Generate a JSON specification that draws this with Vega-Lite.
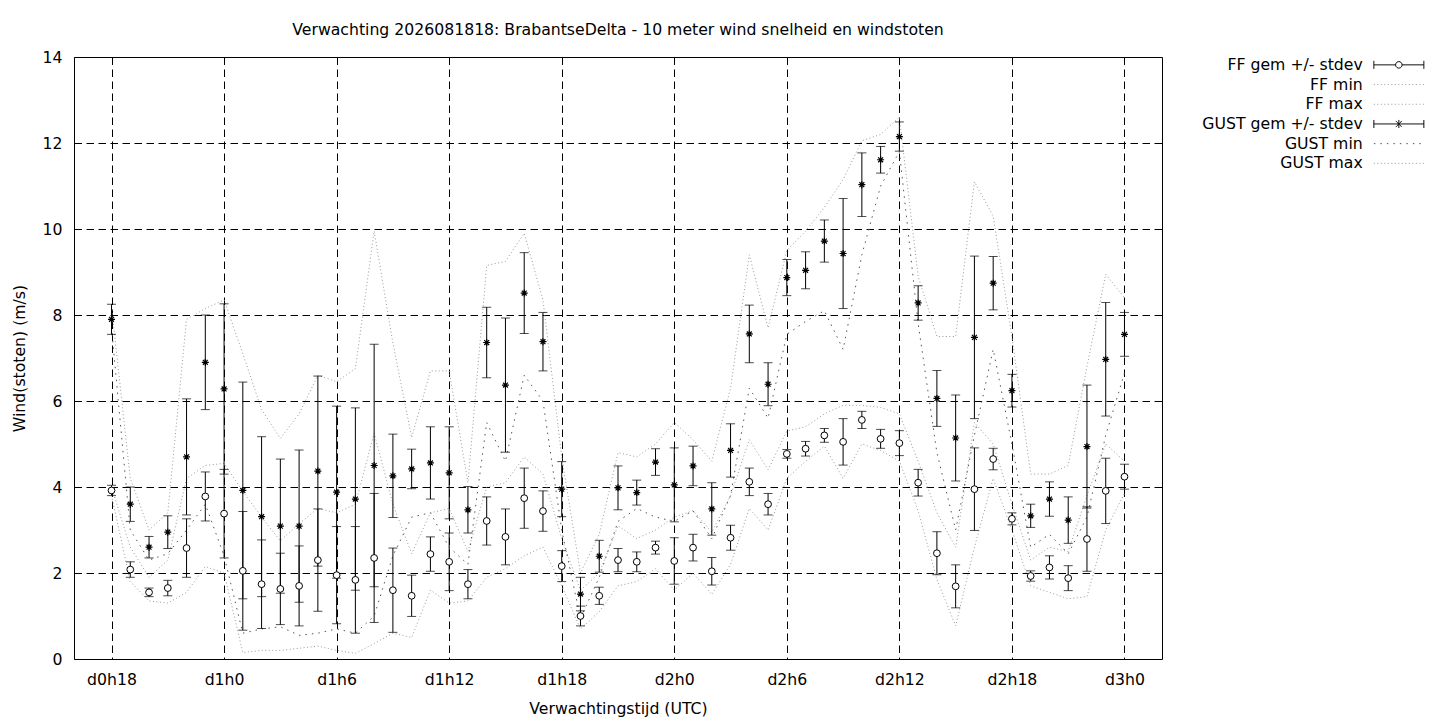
{
  "$schema": "https://vega.github.io/schema/vega-lite/v6.json",
  "width": 1088,
  "height": 602,
  "autosize": {"type": "none"},
  "padding": {"left": 74, "top": 57, "right": 278, "bottom": 61},
  "background": "white",
  "title": {
    "text": "Verwachting 2026081818: BrabantseDelta - 10 meter wind snelheid en windstoten",
    "fontSize": 15.7,
    "fontWeight": "normal",
    "font": "DejaVu Sans",
    "color": "black",
    "offset": 10
  },
  "config": {
    "font": "DejaVu Sans",
    "view": {"stroke": "black", "strokeWidth": 1},
    "axis": {
      "labelFontSize": 15.7,
      "titleFontSize": 15.7,
      "titleFontWeight": "normal",
      "labelColor": "black",
      "titleColor": "black",
      "domain": false,
      "ticks": false,
      "grid": true,
      "gridColor": "black",
      "gridOpacity": 1,
      "gridWidth": 1,
      "gridDash": [7.5, 4.5]
    }
  },
  "datasets": {
    "wind": [
      {"t": 18, "g": 7.9, "g_lo": 7.55, "g_hi": 8.25, "f": 3.92, "f_lo": 3.8, "f_hi": 4.04, "fmin": 3.8, "fmax": 4.0, "gmin": 7.7, "gmax": 8.2},
      {"t": 19, "g": 3.6, "g_lo": 3.2, "g_hi": 4.0, "f": 2.08, "f_lo": 1.9, "f_hi": 2.26, "fmin": 1.8, "fmax": 2.6, "gmin": 3.0, "gmax": 4.2},
      {"t": 20, "g": 2.6, "g_lo": 2.35, "g_hi": 2.85, "f": 1.55, "f_lo": 1.45, "f_hi": 1.65, "fmin": 1.35, "fmax": 1.9, "gmin": 2.3, "gmax": 3.0},
      {"t": 21, "g": 2.95, "g_lo": 2.57, "g_hi": 3.33, "f": 1.65, "f_lo": 1.47, "f_hi": 1.83, "fmin": 1.3, "fmax": 2.3, "gmin": 2.45, "gmax": 3.4},
      {"t": 22, "g": 4.7, "g_lo": 3.35, "g_hi": 6.05, "f": 2.58, "f_lo": 1.9, "f_hi": 3.26, "fmin": 1.55, "fmax": 4.2, "gmin": 3.0, "gmax": 7.9},
      {"t": 23, "g": 6.9, "g_lo": 5.8, "g_hi": 8.0, "f": 3.78, "f_lo": 3.21, "f_hi": 4.35, "fmin": 2.15, "fmax": 4.5, "gmin": 3.6, "gmax": 8.15},
      {"t": 24, "g": 6.28, "g_lo": 4.3, "g_hi": 8.26, "f": 3.38, "f_lo": 2.35, "f_hi": 4.41, "fmin": 2.0, "fmax": 4.55, "gmin": 2.4, "gmax": 8.35},
      {"t": 25, "g": 3.92, "g_lo": 1.4, "g_hi": 6.44, "f": 2.05, "f_lo": 0.67, "f_hi": 3.43, "fmin": 0.15, "fmax": 3.9, "gmin": 0.6, "gmax": 7.1},
      {"t": 26, "g": 3.31, "g_lo": 1.45, "g_hi": 5.17, "f": 1.74, "f_lo": 0.71, "f_hi": 2.77, "fmin": 0.2, "fmax": 3.3, "gmin": 0.7, "gmax": 5.8},
      {"t": 27, "g": 3.09, "g_lo": 1.53, "g_hi": 4.65, "f": 1.63, "f_lo": 0.8, "f_hi": 2.46, "fmin": 0.2, "fmax": 2.75, "gmin": 0.75, "gmax": 5.13},
      {"t": 28, "g": 3.09, "g_lo": 1.32, "g_hi": 4.86, "f": 1.7, "f_lo": 0.77, "f_hi": 2.63, "fmin": 0.25, "fmax": 3.15, "gmin": 0.55, "gmax": 5.7},
      {"t": 29, "g": 4.37, "g_lo": 2.16, "g_hi": 6.58, "f": 2.3, "f_lo": 1.11, "f_hi": 3.49, "fmin": 0.3, "fmax": 3.5, "gmin": 0.6, "gmax": 6.6},
      {"t": 30, "g": 3.88, "g_lo": 1.88, "g_hi": 5.88, "f": 1.95, "f_lo": 0.82, "f_hi": 3.08, "fmin": 0.2, "fmax": 3.4, "gmin": 0.7, "gmax": 6.45},
      {"t": 31, "g": 3.72, "g_lo": 1.6, "g_hi": 5.84, "f": 1.84, "f_lo": 0.6, "f_hi": 3.08, "fmin": 0.13, "fmax": 3.6, "gmin": 0.6, "gmax": 6.75},
      {"t": 32, "g": 4.5, "g_lo": 1.68, "g_hi": 7.32, "f": 2.35, "f_lo": 0.85, "f_hi": 3.85, "fmin": 0.36, "fmax": 5.25, "gmin": 1.0, "gmax": 9.95},
      {"t": 33, "g": 4.26, "g_lo": 3.29, "g_hi": 5.23, "f": 1.6, "f_lo": 0.62, "f_hi": 2.58, "fmin": 0.6, "fmax": 3.6, "gmin": 2.4, "gmax": 7.35},
      {"t": 34, "g": 4.42, "g_lo": 3.96, "g_hi": 4.88, "f": 1.47, "f_lo": 0.99, "f_hi": 1.95, "fmin": 0.5, "fmax": 2.45, "gmin": 3.3, "gmax": 5.15},
      {"t": 35, "g": 4.56, "g_lo": 3.72, "g_hi": 5.4, "f": 2.44, "f_lo": 2.04, "f_hi": 2.84, "fmin": 1.6, "fmax": 3.4, "gmin": 3.4, "gmax": 6.7},
      {"t": 36, "g": 4.33, "g_lo": 3.26, "g_hi": 5.4, "f": 2.26, "f_lo": 1.59, "f_hi": 2.93, "fmin": 1.3, "fmax": 3.5, "gmin": 2.6, "gmax": 6.7},
      {"t": 37, "g": 3.47, "g_lo": 2.93, "g_hi": 4.01, "f": 1.74, "f_lo": 1.4, "f_hi": 2.08, "fmin": 1.35, "fmax": 2.5, "gmin": 2.2, "gmax": 4.1},
      {"t": 38, "g": 7.36, "g_lo": 6.54, "g_hi": 8.18, "f": 3.21, "f_lo": 2.65, "f_hi": 3.77, "fmin": 1.9, "fmax": 4.0, "gmin": 5.5, "gmax": 9.15},
      {"t": 39, "g": 6.37, "g_lo": 4.81, "g_hi": 7.93, "f": 2.84, "f_lo": 2.19, "f_hi": 3.49, "fmin": 2.1, "fmax": 4.1, "gmin": 4.6, "gmax": 9.25},
      {"t": 40, "g": 8.51, "g_lo": 7.57, "g_hi": 9.45, "f": 3.74, "f_lo": 3.04, "f_hi": 4.44, "fmin": 2.4, "fmax": 4.7, "gmin": 6.6, "gmax": 9.9},
      {"t": 41, "g": 7.38, "g_lo": 6.7, "g_hi": 8.06, "f": 3.44, "f_lo": 2.97, "f_hi": 3.91, "fmin": 2.6, "fmax": 4.3, "gmin": 6.0, "gmax": 8.35},
      {"t": 42, "g": 3.95, "g_lo": 3.31, "g_hi": 4.59, "f": 2.16, "f_lo": 1.8, "f_hi": 2.52, "fmin": 1.7, "fmax": 2.8, "gmin": 3.0, "gmax": 4.7},
      {"t": 43, "g": 1.51, "g_lo": 1.12, "g_hi": 1.9, "f": 1.0, "f_lo": 0.77, "f_hi": 1.23, "fmin": 0.7, "fmax": 1.6, "gmin": 0.95, "gmax": 2.0},
      {"t": 44, "g": 2.39, "g_lo": 2.02, "g_hi": 2.76, "f": 1.47, "f_lo": 1.27, "f_hi": 1.67, "fmin": 1.1, "fmax": 2.0, "gmin": 1.9, "gmax": 2.9},
      {"t": 45, "g": 3.98, "g_lo": 3.47, "g_hi": 4.49, "f": 2.3, "f_lo": 2.03, "f_hi": 2.57, "fmin": 1.7, "fmax": 3.1, "gmin": 3.2, "gmax": 4.8},
      {"t": 46, "g": 3.87, "g_lo": 3.58, "g_hi": 4.16, "f": 2.26, "f_lo": 2.03, "f_hi": 2.49, "fmin": 1.8, "fmax": 2.8, "gmin": 3.5, "gmax": 4.7},
      {"t": 47, "g": 4.58, "g_lo": 4.27, "g_hi": 4.89, "f": 2.59, "f_lo": 2.44, "f_hi": 2.74, "fmin": 2.1, "fmax": 3.0, "gmin": 3.3, "gmax": 5.0},
      {"t": 48, "g": 4.05, "g_lo": 3.19, "g_hi": 4.91, "f": 2.28, "f_lo": 1.74, "f_hi": 2.82, "fmin": 1.6, "fmax": 3.3, "gmin": 3.2, "gmax": 5.5},
      {"t": 49, "g": 4.49, "g_lo": 4.03, "g_hi": 4.95, "f": 2.59, "f_lo": 2.28, "f_hi": 2.9, "fmin": 2.0, "fmax": 3.45, "gmin": 3.45, "gmax": 5.1},
      {"t": 50, "g": 3.49, "g_lo": 2.88, "g_hi": 4.1, "f": 2.04, "f_lo": 1.72, "f_hi": 2.36, "fmin": 1.5, "fmax": 2.95, "gmin": 2.8, "gmax": 4.6},
      {"t": 51, "g": 4.85, "g_lo": 4.23, "g_hi": 5.47, "f": 2.82, "f_lo": 2.53, "f_hi": 3.11, "fmin": 2.2, "fmax": 3.8, "gmin": 3.8, "gmax": 6.3},
      {"t": 52, "g": 7.56, "g_lo": 6.89, "g_hi": 8.23, "f": 4.12, "f_lo": 3.8, "f_hi": 4.44, "fmin": 3.5, "fmax": 5.1, "gmin": 6.3, "gmax": 9.4},
      {"t": 53, "g": 6.39, "g_lo": 5.89, "g_hi": 6.89, "f": 3.6, "f_lo": 3.35, "f_hi": 3.85, "fmin": 3.0, "fmax": 4.4, "gmin": 5.6, "gmax": 7.7},
      {"t": 54, "g": 8.87, "g_lo": 8.45, "g_hi": 9.29, "f": 4.77, "f_lo": 4.67, "f_hi": 4.87, "fmin": 4.2, "fmax": 5.3, "gmin": 7.55, "gmax": 9.5},
      {"t": 55, "g": 9.04, "g_lo": 8.61, "g_hi": 9.47, "f": 4.89, "f_lo": 4.72, "f_hi": 5.06, "fmin": 4.6, "fmax": 5.4, "gmin": 7.85, "gmax": 9.95},
      {"t": 56, "g": 9.72, "g_lo": 9.23, "g_hi": 10.21, "f": 5.2, "f_lo": 5.04, "f_hi": 5.36, "fmin": 4.95, "fmax": 5.7, "gmin": 8.1, "gmax": 10.5},
      {"t": 57, "g": 9.43, "g_lo": 8.15, "g_hi": 10.71, "f": 5.05, "f_lo": 4.51, "f_hi": 5.59, "fmin": 4.2, "fmax": 5.9, "gmin": 7.2, "gmax": 11.15},
      {"t": 58, "g": 11.03, "g_lo": 10.29, "g_hi": 11.77, "f": 5.56, "f_lo": 5.36, "f_hi": 5.76, "fmin": 5.0, "fmax": 5.9, "gmin": 9.4, "gmax": 12.05},
      {"t": 59, "g": 11.61, "g_lo": 11.3, "g_hi": 11.92, "f": 5.12, "f_lo": 4.9, "f_hi": 5.34, "fmin": 4.85, "fmax": 5.85, "gmin": 11.0, "gmax": 12.2},
      {"t": 60, "g": 12.15, "g_lo": 11.81, "g_hi": 12.49, "f": 5.02, "f_lo": 4.73, "f_hi": 5.31, "fmin": 4.6, "fmax": 5.7, "gmin": 11.8, "gmax": 12.6},
      {"t": 61, "g": 8.28, "g_lo": 7.88, "g_hi": 8.68, "f": 4.1, "f_lo": 3.79, "f_hi": 4.41, "fmin": 3.45, "fmax": 4.6, "gmin": 7.8, "gmax": 8.9},
      {"t": 62, "g": 6.06, "g_lo": 5.41, "g_hi": 6.71, "f": 2.46, "f_lo": 1.96, "f_hi": 2.96, "fmin": 1.85, "fmax": 3.4, "gmin": 4.8, "gmax": 7.5},
      {"t": 63, "g": 5.14, "g_lo": 4.14, "g_hi": 6.14, "f": 1.69, "f_lo": 1.19, "f_hi": 2.19, "fmin": 0.77, "fmax": 2.6, "gmin": 3.0, "gmax": 7.5},
      {"t": 64, "g": 7.48, "g_lo": 5.59, "g_hi": 9.37, "f": 3.95, "f_lo": 2.99, "f_hi": 4.91, "fmin": 2.6, "fmax": 5.5, "gmin": 5.2, "gmax": 11.1},
      {"t": 65, "g": 8.74, "g_lo": 8.12, "g_hi": 9.36, "f": 4.65, "f_lo": 4.4, "f_hi": 4.9, "fmin": 4.2, "fmax": 5.0, "gmin": 7.2, "gmax": 10.3},
      {"t": 66, "g": 6.24, "g_lo": 5.86, "g_hi": 6.62, "f": 3.26, "f_lo": 3.12, "f_hi": 3.4, "fmin": 3.0, "fmax": 3.6, "gmin": 5.0, "gmax": 7.5},
      {"t": 67, "g": 3.33, "g_lo": 3.06, "g_hi": 3.6, "f": 1.93, "f_lo": 1.81, "f_hi": 2.05, "fmin": 1.7, "fmax": 2.3, "gmin": 2.6, "gmax": 4.3},
      {"t": 68, "g": 3.72, "g_lo": 3.32, "g_hi": 4.12, "f": 2.13, "f_lo": 1.86, "f_hi": 2.4, "fmin": 1.55, "fmax": 2.6, "gmin": 2.9, "gmax": 4.3},
      {"t": 69, "g": 3.23, "g_lo": 2.69, "g_hi": 3.77, "f": 1.88, "f_lo": 1.59, "f_hi": 2.17, "fmin": 1.4, "fmax": 2.5, "gmin": 2.45, "gmax": 4.5},
      {"t": 70, "g": 4.94, "g_lo": 3.51, "g_hi": 6.37, "f": 2.79, "f_lo": 2.04, "f_hi": 3.54, "fmin": 1.45, "fmax": 3.8, "gmin": 3.3, "gmax": 6.8},
      {"t": 71, "g": 6.97, "g_lo": 5.65, "g_hi": 8.29, "f": 3.91, "f_lo": 3.15, "f_hi": 4.67, "fmin": 3.0, "fmax": 5.0, "gmin": 5.2, "gmax": 8.95},
      {"t": 72, "g": 7.55, "g_lo": 7.04, "g_hi": 8.06, "f": 4.24, "f_lo": 3.95, "f_hi": 4.53, "fmin": 3.85, "fmax": 4.6, "gmin": 6.65, "gmax": 8.4}
    ],
    "legend": [
      {"series": "FF gem +/- stdev"},
      {"series": "FF min"},
      {"series": "FF max"},
      {"series": "GUST gem +/- stdev"},
      {"series": "GUST min"},
      {"series": "GUST max"}
    ]
  },
  "data": {"name": "wind"},
  "encoding": {
    "x": {
      "field": "t",
      "type": "quantitative",
      "title": "Verwachtingstijd (UTC)",
      "scale": {"domain": [16, 74], "nice": false, "zero": false},
      "axis": {
        "values": [18, 24, 30, 36, 42, 48, 54, 60, 66, 72],
        "labelExpr": "'d' + floor(datum.value / 24) + 'h' + (datum.value % 24)",
        "labelPadding": 13,
        "titlePadding": 15
      }
    }
  },
  "layer": [
    {
      "data": {"name": "legend"},
      "mark": {"type": "point", "opacity": 0, "filled": false, "strokeWidth": 1},
      "encoding": {
        "x": {"datum": 16, "type": "quantitative"},
        "y": {"datum": 0, "type": "quantitative"},
        "shape": {
          "field": "series",
          "type": "nominal",
          "sort": null,
          "scale": {
            "domain": ["FF gem +/- stdev", "FF min", "FF max", "GUST gem +/- stdev", "GUST min", "GUST max"],
            "range": [
              "M-5,-0.8L-5,0.8M-5,0L-0.65,0M0.65,0L5,0M5,-0.8L5,0.8M-0.65,0A0.65,0.65,0,1,1,0.65,0A0.65,0.65,0,1,1,-0.65,0",
              "M-5,0L5,0",
              "M-5,0L5,0",
              "M-5,-0.8L-5,0.8M-5,0L5,0M5,-0.8L5,0.8M-0.6,-0.6L0.6,0.6M-0.6,0.6L0.6,-0.6M0,-0.8L0,0.8",
              "M-5,0L5,0",
              "M-5,0L5,0"
            ]
          },
          "legend": {
            "title": null,
            "orient": "none",
            "legendX": 1317,
            "legendY": 0,
            "padding": 0,
            "labelAlign": "right",
            "labelOffset": -44,
            "labelFontSize": 15.7,
            "labelColor": "black",
            "labelLimit": 400,
            "symbolSize": 100,
            "symbolOpacity": 1,
            "symbolStrokeWidth": 1,
            "rowPadding": 2.7
          }
        },
        "color": {
          "field": "series",
          "type": "nominal",
          "sort": null,
          "scale": {
            "domain": ["FF gem +/- stdev", "FF min", "FF max", "GUST gem +/- stdev", "GUST min", "GUST max"],
            "range": ["black", "#999999", "#999999", "black", "#555555", "#999999"]
          }
        },
        "strokeDash": {
          "field": "series",
          "type": "nominal",
          "sort": null,
          "scale": {
            "domain": ["FF gem +/- stdev", "FF min", "FF max", "GUST gem +/- stdev", "GUST min", "GUST max"],
            "range": [[1, 0], [1, 2.5], [1, 2.5], [1, 0], [1.5, 5], [1, 2.5]]
          }
        }
      }
    },
    {
      "mark": {"type": "line", "color": "#999999", "strokeWidth": 1, "strokeDash": [1, 2.5]},
      "encoding": {"y": {"field": "fmin", "type": "quantitative"}}
    },
    {
      "mark": {"type": "line", "color": "#999999", "strokeWidth": 1, "strokeDash": [1, 2.5]},
      "encoding": {"y": {"field": "fmax", "type": "quantitative"}}
    },
    {
      "mark": {"type": "line", "color": "#555555", "strokeWidth": 1, "strokeDash": [1.5, 5]},
      "encoding": {"y": {"field": "gmin", "type": "quantitative"}}
    },
    {
      "mark": {"type": "line", "color": "#999999", "strokeWidth": 1, "strokeDash": [1, 2.5]},
      "encoding": {
        "y": {
          "field": "gmax",
          "type": "quantitative",
          "title": "Wind(stoten) (m/s)",
          "scale": {"domain": [0, 14], "nice": false},
          "axis": {
            "values": [0, 2, 4, 6, 8, 10, 12, 14],
            "labelPadding": 12,
            "titlePadding": 15
          }
        }
      }
    },
    {
      "mark": {"type": "rule", "color": "black", "strokeWidth": 1},
      "encoding": {
        "y": {"field": "f_lo", "type": "quantitative"},
        "y2": {"field": "f_hi"}
      }
    },
    {
      "mark": {"type": "tick", "color": "black", "orient": "horizontal", "size": 9, "thickness": 1},
      "encoding": {"y": {"field": "f_lo", "type": "quantitative"}}
    },
    {
      "mark": {"type": "tick", "color": "black", "orient": "horizontal", "size": 9, "thickness": 1},
      "encoding": {"y": {"field": "f_hi", "type": "quantitative"}}
    },
    {
      "mark": {"type": "rule", "color": "black", "strokeWidth": 1},
      "encoding": {
        "y": {"field": "g_lo", "type": "quantitative"},
        "y2": {"field": "g_hi"}
      }
    },
    {
      "mark": {"type": "tick", "color": "black", "orient": "horizontal", "size": 9, "thickness": 1},
      "encoding": {"y": {"field": "g_lo", "type": "quantitative"}}
    },
    {
      "mark": {"type": "tick", "color": "black", "orient": "horizontal", "size": 9, "thickness": 1},
      "encoding": {"y": {"field": "g_hi", "type": "quantitative"}}
    },
    {
      "mark": {"type": "point", "shape": "circle", "size": 46, "filled": true, "fill": "white", "stroke": "black", "strokeWidth": 1, "opacity": 1},
      "encoding": {"y": {"field": "f", "type": "quantitative"}}
    },
    {
      "mark": {
        "type": "point",
        "shape": "M-1,0L1,0M0,-1L0,1M-0.7,-0.7L0.7,0.7M-0.7,0.7L0.7,-0.7",
        "size": 49,
        "filled": false,
        "stroke": "black",
        "strokeWidth": 1.2,
        "opacity": 1
      },
      "encoding": {"y": {"field": "g", "type": "quantitative"}}
    }
  ]
}
